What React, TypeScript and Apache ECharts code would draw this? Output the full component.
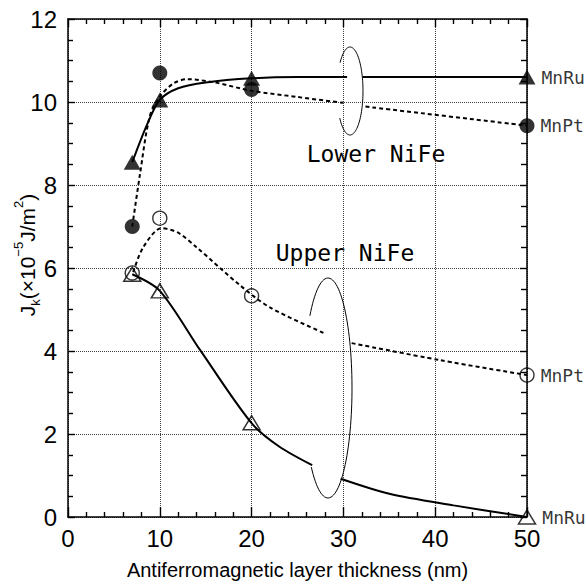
import React, { useEffect, useRef } from "react";
import * as echarts from "echarts";

// Measured points (thickness in nm, Jk in 1e-5 J/m^2)
const thickness = [7, 10, 20, 50];
const lowerMnRu = [8.55, 10.05, 10.57, 10.6];
const lowerMnPt = [7.0, 10.7, 10.3, 9.43];
const upperMnPt = [5.88, 7.2, 5.33, 3.42];
const upperMnRu = [5.85, 5.45, 2.27, 0.0];

// Guide-to-the-eye curves (null = break under the loop)
const lowerMnRuCurve: (number | null)[][] = [
  [7, 8.55], [8.6, 9.45], [10, 10.05], [12, 10.33], [15, 10.47], [20, 10.57],
  [25, 10.6], [30.4, 10.6], [31, null], [32.1, 10.6], [50, 10.6],
];
const lowerMnPtCurve: (number | null)[][] = [
  [7, 7.0], [7.8, 8.2], [8.9, 9.65], [10, 10.13], [11.5, 10.45],
  [13, 10.55], [16, 10.47], [20, 10.27], [25, 10.12], [30, 9.98],
  [31, null], [32.4, 9.89], [50, 9.43],
];
const upperMnPtCurve: (number | null)[][] = [
  [7.1, 5.9], [8.2, 6.5], [10.2, 6.96], [12, 6.85], [14.0, 6.5], [18.7, 5.59],
  [22, 5.05], [27.9, 4.43], [29, null], [30.9, 4.19], [40.5, 3.78], [50, 3.42],
];
const upperMnRuCurve: (number | null)[][] = [
  [7, 5.85], [10, 5.45], [14.4, 4.02], [20, 2.26], [23, 1.7],
  [26.6, 1.25], [28, null], [29.7, 0.92], [35, 0.56], [42, 0.28], [50, 0],
];

const xTicks = { min: 0, max: 50, interval: 10 };
const yTicks = { min: 0, max: 12, interval: 2 };

function loop(cx: number, cy: number, rx: number, ry: number, a0: number, a1: number) {
  const pts: number[][] = [];
  for (let a = a0; a <= a1; a += 3) {
    const t = (a * Math.PI) / 180;
    pts.push([cx + rx * Math.cos(t), cy - ry * Math.sin(t)]);
  }
  return pts;
}

const sans = "Liberation Sans";
const mono = "DejaVu Sans Mono";

export default function App() {
  const ref = useRef<HTMLDivElement>(null);
  useEffect(() => {
    document.body.style.margin = "0";
    const chart = echarts.init(ref.current!, undefined, { renderer: "svg" });
    const pair = (ys: number[]) => thickness.map((x, i) => [x, ys[i]]);
    const endLabel = (name: string) => ({
      show: true,
      position: "right" as const,
      distance: 6,
      color: "#000",
      fontFamily: mono,
      fontSize: 18,
      formatter: (p: any) => (p.value[0] === 50 ? name : ""),
    });
    const tickStyle = { color: "#000", width: 1.4 };
    const gridStyle = { show: true, lineStyle: { color: "#000", type: "dotted" as const, width: 1, opacity: 0.75 } };
    const mkAxis = (extra: any, tickLen: number, minorLen: number, minorSplit: number, labels: any, split: any) => ({
      type: "value",
      ...extra,
      axisLine: { show: true, onZero: false, lineStyle: { color: "#000", width: 1.5 } },
      axisTick: { show: true, inside: true, length: tickLen, lineStyle: tickStyle },
      minorTick: { show: true, splitNumber: minorSplit, length: minorLen, lineStyle: tickStyle },
      axisLabel: labels,
      splitLine: split,
      minorSplitLine: { show: false },
    });
    const fitLine = (data: any, dashed: boolean) => ({
      type: "line",
      data,
      smooth: 0.3,
      showSymbol: false,
      symbol: "none",
      connectNulls: false,
      clip: false,
      silent: true,
      lineStyle: { color: "#000", width: 2, type: dashed ? [4, 3] : "solid" },
      z: 3,
    });
    chart.setOption({
      animation: false,
      backgroundColor: "#fff",
      grid: { left: 68, right: 59, top: 19, bottom: 68 },
      xAxis: [
        {
          ...mkAxis(
            { ...xTicks, position: "bottom" },
            10,
            5,
            5,
            { color: "#000", fontSize: 24, fontFamily: sans, margin: 9 },
            gridStyle
          ),
          name: "Antiferromagnetic layer thickness (nm)",
          nameLocation: "middle",
          nameGap: 43,
          nameTextStyle: { color: "#000", fontSize: 20, fontFamily: sans },
        },
        mkAxis({ ...xTicks, position: "top" }, 8, 5, 5, { show: false }, { show: false }),
      ],
      yAxis: [
        mkAxis({ ...yTicks, position: "left" }, 7, 5, 4, { color: "#000", fontSize: 24, fontFamily: sans, margin: 11 }, gridStyle),
        mkAxis({ ...yTicks, position: "right" }, 7, 6, 4, { show: false }, { show: false }),
      ],
      series: [
        fitLine(lowerMnRuCurve, false),
        fitLine(lowerMnPtCurve, true),
        fitLine(upperMnPtCurve, true),
        fitLine(upperMnRuCurve, false),
        {
          type: "scatter",
          name: "MnRu (lower NiFe)",
          data: pair(lowerMnRu),
          symbol: "triangle",
          symbolSize: [17, 15],
          clip: false,
          itemStyle: { color: "#000" },
          label: endLabel("MnRu"),
          z: 5,
        },
        {
          type: "scatter",
          name: "MnPt (lower NiFe)",
          data: pair(lowerMnPt),
          symbol: "circle",
          symbolSize: 15,
          clip: false,
          itemStyle: { color: "#000" },
          label: endLabel("MnPt"),
          z: 5,
        },
        {
          type: "scatter",
          name: "MnPt (upper NiFe)",
          data: pair(upperMnPt),
          symbol: "circle",
          symbolSize: 14,
          clip: false,
          itemStyle: { color: "rgba(0,0,0,0)", borderColor: "#000", borderWidth: 1.4 },
          label: endLabel("MnPt"),
          z: 5,
        },
        {
          type: "scatter",
          name: "MnRu (upper NiFe)",
          data: pair(upperMnRu),
          symbol: "triangle",
          symbolSize: [17, 14],
          clip: false,
          itemStyle: { color: "rgba(0,0,0,0)", borderColor: "#000", borderWidth: 1.5 },
          label: endLabel("MnRu"),
          z: 5,
        },
      ],
      graphic: [
        {
          type: "text",
          x: 27,
          y: 255,
          rotation: Math.PI / 2,
          style: {
            text: "{m|J}{sub|k}{m|(×10}{sup|−5}{m|J/m}{sup|2}{m|)}",
            align: "center",
            verticalAlign: "middle",
            fill: "#000",
            rich: {
              m: { fontSize: 21, fontFamily: sans, lineHeight: 30, fill: "#000" },
              sub: { fontSize: 13, fontFamily: sans, lineHeight: 14, verticalAlign: "bottom", fill: "#000" },
              sup: { fontSize: 13, fontFamily: sans, lineHeight: 14, verticalAlign: "top", fill: "#000" },
            },
          },
        },
        {
          type: "text",
          x: 376,
          y: 154,
          style: { text: "Lower NiFe", fontFamily: mono, fontSize: 23, fill: "#000", align: "center", verticalAlign: "middle" },
        },
        {
          type: "text",
          x: 345,
          y: 253,
          style: { text: "Upper NiFe", fontFamily: mono, fontSize: 23, fill: "#000", align: "center", verticalAlign: "middle" },
        },
        {
          type: "polyline",
          shape: { points: loop(350, 91, 13, 44, 218, 500) },
          style: { stroke: "#000", fill: "none", lineWidth: 1 },
          z: 10,
        },
        {
          type: "polyline",
          shape: { points: loop(328, 388, 24, 110, 226, 500) },
          style: { stroke: "#000", fill: "none", lineWidth: 1 },
          z: 10,
        },
      ],
    });
    return () => chart.dispose();
  }, []);
  return <div ref={ref} style={{ width: 586, height: 585 }} />;
}
